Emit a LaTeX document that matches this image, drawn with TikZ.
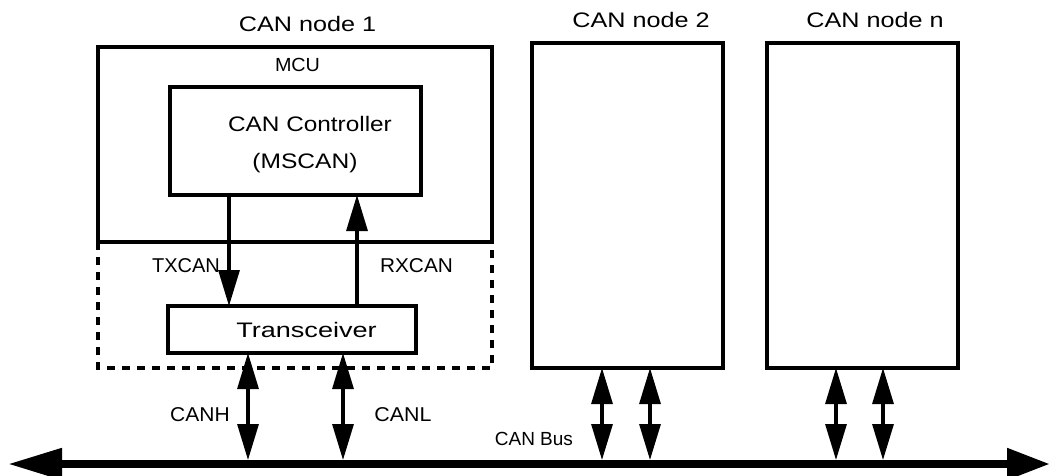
\documentclass[tikz,border=0pt]{standalone}
\usepackage{fontspec}
\usepackage{graphicx}
\setmainfont{Liberation Sans}
\usetikzlibrary{arrows.meta}
\newcommand{\hs}[3]{{\fontsize{#1}{#1}\selectfont\scalebox{#2}[1]{#3}}}
\tikzset{
  box/.style={draw, line width=3.2pt, outer sep=0pt, inner sep=0pt},
  lbl/.style={anchor=base, inner sep=0pt, outer sep=0pt},
  sig/.style={line width=3.2pt, -{Triangle[length=36pt,width=21pt]}},
  dbl/.style={line width=3.2pt, {Triangle[length=36pt,width=21pt]}-{Triangle[length=36pt,width=21pt]}},
  bus/.style={line width=8pt, {Triangle[length=54pt,width=30pt]}-{Triangle[length=43pt,width=30pt]}},
  dashbox/.style={line width=3.2pt, dash pattern=on 8pt off 7pt}
}
\begin{document}
\begin{tikzpicture}[x=1pt,y=-1pt]
\useasboundingbox (0,0) rectangle (1050,476);
% boxes
\node[box, minimum width=394pt, minimum height=195pt] (mcu) at (295,144.5) {};
\node[box, minimum width=251pt, minimum height=108pt] (ctrl) at (295.5,141) {};
\node[box, minimum width=248pt, minimum height=47pt] (trx) at (292,329.5) {};
\node[box, minimum width=191pt, minimum height=325pt] (node2) at (627.5,205.5) {};
\node[box, minimum width=191pt, minimum height=325pt] (noden) at (862.5,205.5) {};
\draw[dashbox] (mcu.south west) -- ++(0,126) coordinate (dsw) -- (dsw -| mcu.south east) -- (mcu.south east);
% labels
\node[lbl] (t1) at (307.5,32) {\hs{21}{1.2}{CAN node 1}};
\node[lbl] (t2) at (641,28) {\hs{21}{1.2}{CAN node 2}};
\node[lbl] (tn) at (875,28) {\hs{21}{1.2}{CAN node n}};
\node[lbl] (lmcu) at (297.5,72) {\hs{19}{1.04}{MCU}};
\node[lbl] (lctrl) at (310,132) {\hs{21}{1.16}{CAN Controller}};
\node[lbl] (lms) at (305,168) {\hs{21}{1.17}{(MSCAN)}};
\node[lbl] (ltx) at (186,272) {\hs{20}{1.0}{TXCAN}};
\node[lbl] (lrx) at (416.5,272) {\hs{20}{1.04}{RXCAN}};
\node[lbl] (ltrx) at (306.5,337) {\hs{21}{1.29}{Transceiver}};
\node[lbl] (lh) at (200,421) {\hs{20}{1.05}{CANH}};
\node[lbl] (ll) at (403,421) {\hs{20}{1.07}{CANL}};
\node[lbl, anchor=base east] (lbus) at (573,445) {\hs{19}{1.0}{CAN Bus}};
% x positions
\coordinate (xtx) at (229,0);
\coordinate (xrx) at (357,0);
\coordinate (xh) at (248,0);
\coordinate (xl) at (343,0);
\coordinate (xa) at (602,0);
\coordinate (xb) at (650,0);
\coordinate (xc) at (836,0);
\coordinate (xd) at (883,0);
\coordinate (bustop) at (0,460);
% signals
\draw[sig] (ctrl.south -| xtx) -- (trx.north -| xtx);
\draw[sig] (trx.north -| xrx) -- (ctrl.south -| xrx);
\draw[dbl] (trx.south -| xh) -- (bustop -| xh);
\draw[dbl] (trx.south -| xl) -- (bustop -| xl);
\draw[dbl] (node2.south -| xa) -- (bustop -| xa);
\draw[dbl] (node2.south -| xb) -- (bustop -| xb);
\draw[dbl] (noden.south -| xc) -- (bustop -| xc);
\draw[dbl] (noden.south -| xd) -- (bustop -| xd);
% bus
\coordinate (busL) at (8,464);
\coordinate (busR) at (1050,464);
\draw[bus] (busL) -- (busR);
\end{tikzpicture}
\end{document}
